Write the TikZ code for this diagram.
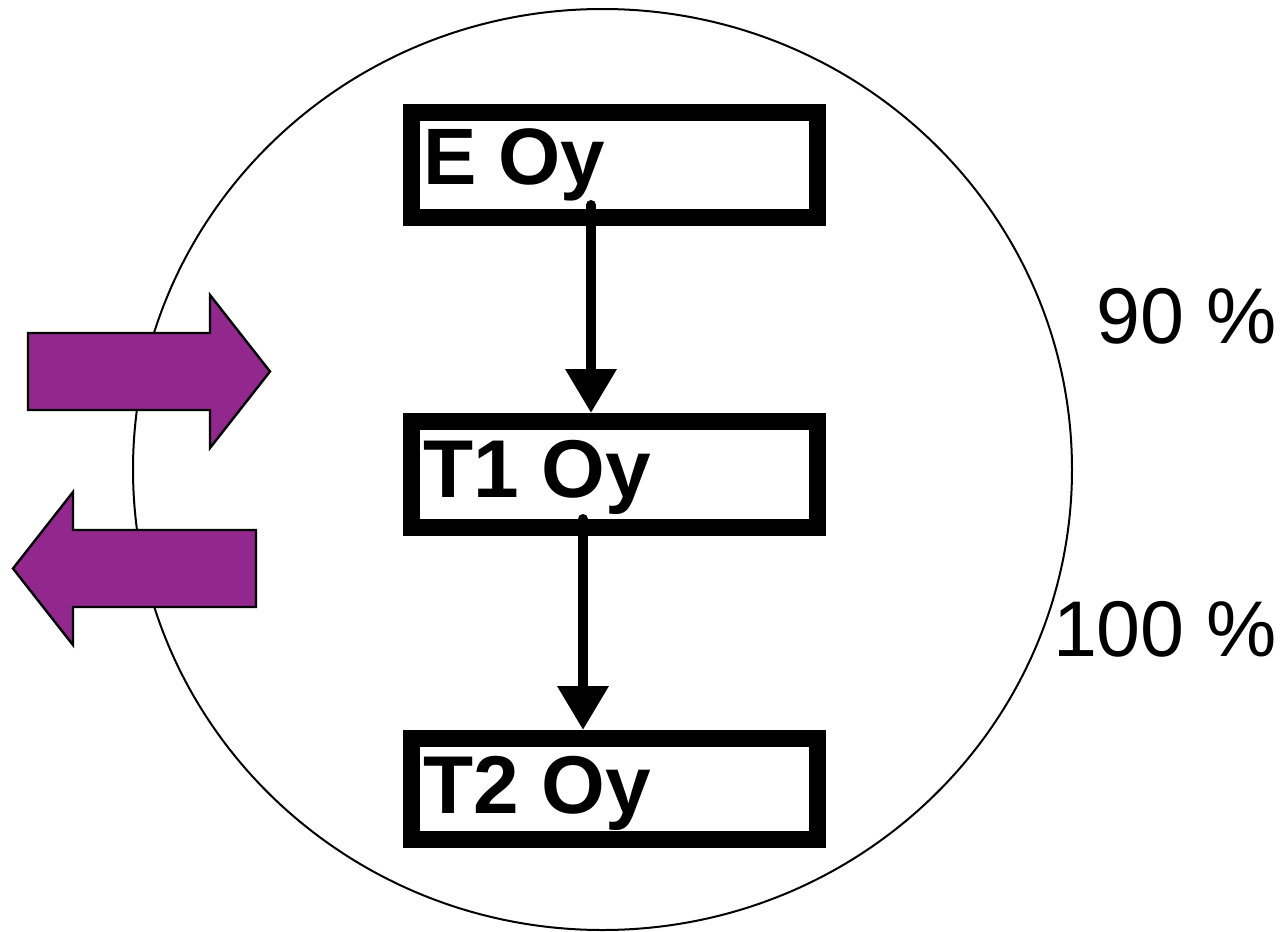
\documentclass[tikz,border=0pt]{standalone}
\usepackage{fontspec}
\setmainfont{Liberation Sans}
\usetikzlibrary{arrows.meta,calc}
\definecolor{arrowpurple}{RGB}{146,40,142}
\tikzset{
  stagebox/.style={draw=black, line width=8.5pt, fill=white, rectangle, inner sep=0pt, outer sep=0pt},
  stagetext/.style={anchor=base west, inner sep=0pt, outer sep=0pt, font=\fontsize{40pt}{40pt}\selectfont\bfseries},
  bigstagetext/.style={stagetext, font=\fontsize{41pt}{41pt}\selectfont\bfseries},
  pcttext/.style={anchor=base east, inner sep=0pt, outer sep=0pt, font=\fontsize{39.5pt}{39.5pt}\selectfont},
  flowarrow/.style={draw=black, line width=5pt, line cap=round, -{Triangle[width=24.5pt,length=22pt]}},
  bigarrow/.style={draw=black, line width=1.2pt, fill=arrowpurple, line join=miter},
  ring/.style={draw=black, line width=1pt}
}
\begin{document}
\begin{tikzpicture}[x=0.5pt,y=-0.5pt]
\useasboundingbox (0,0) rectangle (1286,932);
% surrounding circle
\draw[ring] (602.5,469.5) ellipse [x radius=234.75pt, y radius=230.25pt];
% purple arrows
\draw[bigarrow] (28,333) -- (210,333) -- (210,295) -- (270,371.5) -- (210,448) -- (210,410) -- (28,410) -- cycle;
\draw[bigarrow] (256,530) -- (73,530) -- (73,492) -- (13,568.5) -- (73,645) -- (73,607) -- (256,607) -- cycle;
% boxes
\node[stagebox, minimum width=203pt, minimum height=52.5pt] (ebox) at (614,164.5) {};
\node[stagebox, minimum width=203pt, minimum height=53pt] (tonebox) at (614,474.5) {};
\node[stagebox, minimum width=203pt, minimum height=50.5pt] (ttwobox) at (614,789) {};
% texts
\node[stagetext] (etext) at (423,184) {E Oy};
\node[bigstagetext] (tonetext) at (423,497) {T1 Oy};
\node[bigstagetext] (ttwotext) at (423,813) {T2 Oy};
% connectors
\draw[flowarrow] ($(ebox.south)+(-23,-12)$) -- ($(tonebox.north)+(-23,-8.5)$);
\draw[flowarrow] ($(tonebox.south)+(-31,-8.5)$) -- ($(ttwobox.north)+(-31,-8.5)$);
% percentages
\node[pcttext] (pninety) at (1277,343) {90 \%};
\node[pcttext] (phundred) at (1277,656) {100 \%};
\end{tikzpicture}
\end{document}
